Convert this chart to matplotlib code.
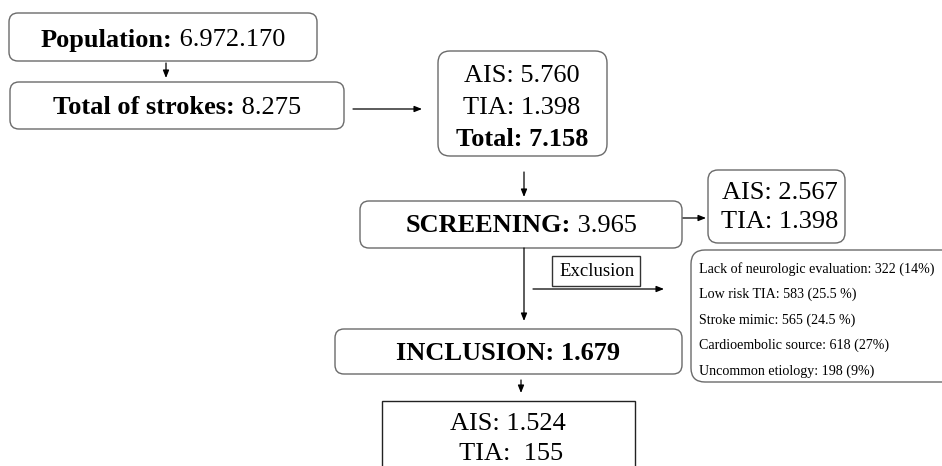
import matplotlib
matplotlib.use("Agg")
from matplotlib import pyplot as plt
from matplotlib.patches import FancyBboxPatch, Rectangle

plt.rcParams['font.family'] = ['Liberation Serif', 'DejaVu Serif']

population = "6.972.170"
total_strokes = "8.275"
first_split = ["AIS: 5.760", "TIA: 1.398"]
first_total = "Total: 7.158"
screening = "3.965"
screen_split = ["AIS: 2.567", "TIA: 1.398"]
inclusion = "INCLUSION: 1.679"
final_split = ["AIS: 1.524", " TIA:  155"]
exclusion_reasons = [
    "Lack of neurologic evaluation: 322 (14%)",
    "Low risk TIA: 583 (25.5 %)",
    "Stroke mimic: 565 (24.5 %)",
    "Cardioembolic source: 618 (27%)",
    "Uncommon etiology: 198 (9%)",
]

W, H = 942, 466
fig = plt.figure(figsize=(W / 100, H / 100), dpi=100)
ax = fig.add_axes([0, 0, 1, 1])
ax.set_xlim(0, W)
ax.set_ylim(H, 0)
ax.axis('off')

EDGE = '#6a6a6a'
FS = 19
DY = 2  # nudge text down a little, the bbox centre sits high


def rbox(x0, y0, x1, y1, pad=9, lw=1.0):
    p = FancyBboxPatch((x0 + pad, y0 + pad), x1 - x0 - 2 * pad, y1 - y0 - 2 * pad,
                       boxstyle="round,pad=%d" % pad, fc='white', ec=EDGE, lw=lw)
    ax.add_patch(p)


def arrow(x0, y0, x1, y1):
    ax.annotate('', xy=(x1, y1), xytext=(x0, y0),
                arrowprops=dict(arrowstyle='-|>,head_length=0.45,head_width=0.18',
                                color='black', lw=0.9, shrinkA=0, shrinkB=0))


def txt(x, y, s, size=FS, **kw):
    kw.setdefault('ha', 'center')
    return ax.text(x, y + DY, s, fontsize=size, va='center', **kw)


fig.canvas.draw()
renderer = fig.canvas.get_renderer()


def mixed(xc, y, bold, rest, size=FS):
    # bold label followed by regular value, centred on xc
    t1 = txt(0, y, bold, size, fontweight='bold', ha='left')
    t2 = txt(0, y, rest, size, ha='left')
    inv = ax.transData.inverted()
    w1 = t1.get_window_extent(renderer).width
    w2 = t2.get_window_extent(renderer).width
    x_disp_c = ax.transData.transform((xc, y))[0]
    left = x_disp_c - (w1 + w2) / 2
    t1.set_x(inv.transform((left, 0))[0])
    t2.set_x(inv.transform((left + w1, 0))[0])


# Population
rbox(9, 13, 317, 61)
mixed(163, 38, "Population:", " " + population)
arrow(166, 63, 166, 78)

# Total of strokes
rbox(10, 82, 344, 129)
mixed(177, 106, "Total of strokes:", " " + total_strokes)
arrow(353, 109, 422, 109)

# first split box
rbox(438, 51, 607, 156, pad=12)
txt(522, 74, first_split[0])
txt(522, 106, first_split[1])
txt(522, 137, first_total, fontweight='bold')
arrow(524, 172, 524, 197)

# Screening
rbox(360, 201, 682, 248)
mixed(521, 224, "SCREENING:", " " + screening)
arrow(683, 218, 706, 218)

rbox(708, 170, 845, 243, pad=10)
txt(838, 191, screen_split[0], ha='right')
txt(838, 220, screen_split[1], ha='right')

# vertical path to inclusion
arrow(524, 248, 524, 321)
ax.add_patch(Rectangle((552, 256), 88, 30, fc='white', ec='#333333', lw=1.0))
txt(597, 270, "Exclusion", 13.5)
arrow(533, 289, 664, 289)

# exclusion reasons
rbox(691, 250, 960, 382, pad=14)
for i, reason in enumerate(exclusion_reasons):
    txt(699, 267 + i * 25.5, reason, 10.1, ha='left')

# Inclusion
rbox(335, 329, 682, 374)
txt(508, 351, inclusion, fontweight='bold')
arrow(521, 380, 521, 393)

# final box
ax.add_patch(Rectangle((382, 401), 253, 80, fc='white', ec='#222222', lw=1.0))
txt(508, 422, final_split[0])
txt(508, 452, final_split[1])

fig.savefig('out.png', dpi=100)
